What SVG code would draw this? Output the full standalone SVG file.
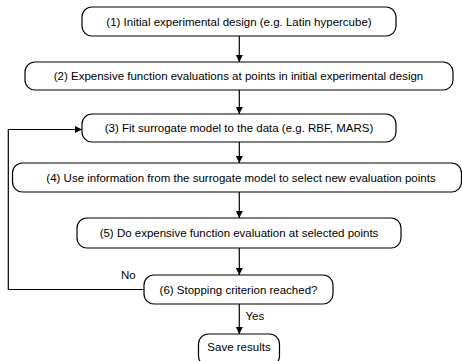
<svg xmlns="http://www.w3.org/2000/svg" width="462" height="361" viewBox="0 0 462 361">
<style>
.box{fill:#fff;stroke:#000;stroke-width:1.2}
.t{font-family:"Liberation Sans",Arial,sans-serif;font-size:11.5px;fill:#000;text-anchor:middle}
.l{font-family:"Liberation Sans",Arial,sans-serif;font-size:11.5px;fill:#000}
.c{fill:none;stroke:#000;stroke-width:1.2}
</style>
<defs>
<marker id="ah" markerWidth="8" markerHeight="8" refX="7" refY="4" orient="auto" markerUnits="userSpaceOnUse">
<path d="M0,0.5 L7,4 L0,7.5 Z" fill="#000"/>
</marker>
</defs>
<rect width="462" height="361" fill="#fff"/>
<g id="connectors">
<line class="c" x1="239.3" y1="36" x2="239.3" y2="62" marker-end="url(#ah)"/>
<line class="c" x1="239.3" y1="90" x2="239.3" y2="114" marker-end="url(#ah)"/>
<line class="c" x1="239.3" y1="142" x2="239.3" y2="163" marker-end="url(#ah)"/>
<line class="c" x1="239.3" y1="192" x2="239.3" y2="218" marker-end="url(#ah)"/>
<line class="c" x1="239.3" y1="248" x2="239.3" y2="275" marker-end="url(#ah)"/>
<line class="c" x1="239.3" y1="304" x2="239.3" y2="334" marker-end="url(#ah)"/>
<polyline class="c" points="144,289.5 8.3,289.5 8.3,129.5 82,129.5" marker-end="url(#ah)"/>
<text class="l" x="121" y="279">No</text>
<text class="l" x="245.5" y="320">Yes</text>
</g>
<g id="n1"><rect class="box" x="82" y="7" width="314" height="29" rx="10"/><text class="t" x="239" y="25.5">(1) Initial experimental design (e.g. Latin hypercube)</text></g>
<g id="n2"><rect class="box" x="25" y="62" width="428" height="28" rx="10"/><text class="t" x="238.5" y="80">(2) Expensive function evaluations at points in initial experimental design</text></g>
<g id="n3"><rect class="box" x="82" y="114" width="314" height="28" rx="10"/><text class="t" x="239" y="132">(3) Fit surrogate model to the data (e.g. RBF, MARS)</text></g>
<g id="n4"><rect class="box" x="12.5" y="163" width="449" height="29" rx="10"/><text class="t" x="241" y="181.5">(4) Use information from the surrogate model to select new evaluation points</text></g>
<g id="n5"><rect class="box" x="77" y="218" width="324" height="30" rx="10"/><text class="t" x="239" y="237">(5) Do expensive function evaluation at selected points</text></g>
<g id="n6"><rect class="box" x="144" y="275" width="189" height="29" rx="10"/><text class="t" x="238.5" y="293.5">(6) Stopping criterion reached?</text></g>
<g id="n7"><rect class="box" x="198.5" y="334" width="81" height="32" rx="10"/><text class="t" x="239" y="350.5">Save results</text></g>
</svg>
